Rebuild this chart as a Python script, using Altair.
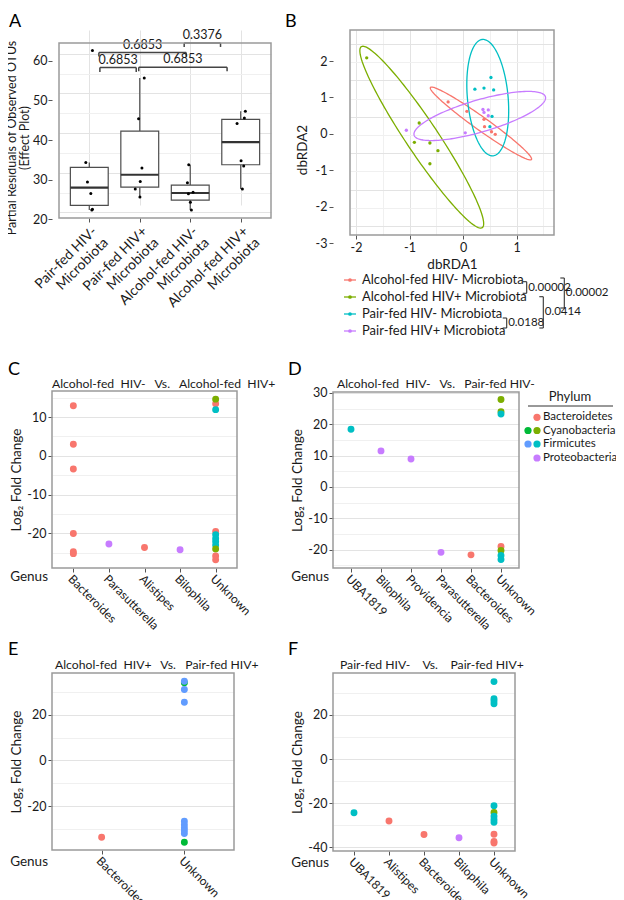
import json
import altair as alt
import pandas as pd

FONT = "Lato"
INK = "#1a1a1a"
TICK = "#555555"
GMAJ = "#e3e3e3"
GMIN = "#f0f0f0"
BORDER = "#9a9a9a"
BOXC = "#4d4d4d"

# ======================= data =======================
panel_letters = ["A", "B", "C", "D", "E", "F"]

# ---- Panel A : partial residuals of observed OTUs ----
a_line1 = ["Pair-fed HIV-", "Pair-fed HIV+", "Alcohol-fed HIV-", "Alcohol-fed HIV+"]
a_line2 = "Microbiota"
a_group = [1] * 6 + [2] * 6 + [3] * 6 + [4] * 6
a_resid = [60.8, 32.6, 27.7, 24.8, 20.8, 20.6,
           53.9, 43.6, 31.2, 27.8, 25.9, 23.9,
           32.0, 27.5, 25.1, 24.7, 22.6, 20.6,
           45.5, 43.8, 42.4, 33.0, 31.7, 25.9]
a_jitter = [0.063, -0.069, -0.036, 0.030, 0.063, 0.050,
            0.089, -0.023, 0.043, 0.010, -0.089, 0.003,
            -0.030, -0.056, 0.056, -0.036, 0.003, 0.023,
            0.092, 0.072, -0.072, 0.007, 0.059, 0.033]
a_p_text = ["0.6853", "0.3376", "0.6853", "0.6853"]
a_p_x1 = [1.19, 2.88, 1.21, 1.98]
a_p_x2 = [2.92, 3.60, 1.93, 3.73]
a_p_y = [60.3, 62.7, 56.5, 56.6]
a_p_tip = [59.3, 61.7, 55.4, 55.6]
a_y_major = [20, 30, 40, 50, 60]
a_y_minor = [25, 35, 45, 55]

# ---- Panel B : dbRDA ordination ----
b_groups = ["Alcohol-fed HIV- Microbiota", "Alcohol-fed HIV+ Microbiota",
            "Pair-fed HIV- Microbiota", "Pair-fed HIV+ Microbiota"]
b_colors = ["#F8766D", "#7CAE00", "#00BFC4", "#C77CFF"]
b_pt_group = [0] * 6 + [1] * 6 + [2] * 6 + [3] * 6
b_x = [-0.28, 0.07, 0.39, 0.40, 0.53, 0.60,
       -1.80, -0.82, -0.91, -0.62, -0.47, -0.62,
       0.22, 0.39, 0.52, 0.57, 0.54, 0.50,
       -1.06, 0.04, 0.37, 0.39, 0.47, 0.47]
b_y = [0.41, 0.15, -0.07, -0.27, -0.41, -0.48,
       1.62, -0.17, -0.70, -0.72, -0.93, -1.29,
       0.76, 0.79, 1.08, 0.74, 0.01, -0.27,
       -0.37, -0.44, 0.20, 0.12, 0.19, 0.03]
# confidence ellipses: centre, major half-axis vector, minor half-axis vector
b_ell_cx = [0.333, -0.772, 0.460, 0.311]
b_ell_cy = [-0.183, -0.559, 0.527, 0.023]
b_ell_ux = [0.943, 1.129, 0.100, 1.226]
b_ell_uy = [-0.989, -2.486, -1.598, 0.527]
b_ell_vx = [0.072, 0.248, 0.378, 0.084]
b_ell_vy = [0.149, 0.245, 0.051, -0.422]
b_p_text = ["0.00002", "0.00002", "0.0188", "0.0414"]
b_x_major = [-2, -1, 0, 1]
b_x_minor = [-1.5, -0.5, 0.5, 1.5]
b_y_major = [-3, -2, -1, 0, 1, 2]
b_y_minor = [-2.5, -1.5, -0.5, 0.5, 1.5]

# ---- Panels C-F : log2 fold change by genus ----
phyla = ["Bacteroidetes", "Cyanobacteria", "Firmicutes", "Proteobacteria"]
pal_main = ["#F8766D", "#7CAE00", "#00BFC4", "#C77CFF"]
pal_alt = ["#F8766D", "#00BA38", "#619CFF", "#C77CFF"]

c_title = "Alcohol-fed  HIV-   Vs.   Alcohol-fed  HIV+"
c_order = ["Bacteroides", "Parasutterella", "Alistipes", "Bilophila", "Unknown"]
c_genus = (["Bacteroides"] * 6 + ["Parasutterella", "Alistipes", "Bilophila"] + ["Unknown"] * 11)
c_phylum = (["Bacteroidetes"] * 6 + ["Proteobacteria", "Bacteroidetes", "Proteobacteria"] +
            ["Bacteroidetes", "Firmicutes", "Cyanobacteria", "Bacteroidetes", "Firmicutes", "Firmicutes",
             "Firmicutes", "Firmicutes", "Cyanobacteria", "Bacteroidetes", "Bacteroidetes"])
c_lfc = [12.9, 3.0, -3.4, -20.0, -24.7, -25.2,
         -22.7, -23.6, -24.2,
         13.4, 11.9, 14.6, -19.5, -20.3, -21.3, -22.1, -23.0, -24.0, -25.8, -26.8]

d_title = "Alcohol-fed  HIV-   Vs.   Pair-fed HIV-"
d_order = ["UBA1819", "Bilophila", "Providencia", "Parasutterella", "Bacteroides", "Unknown"]
d_genus = ["UBA1819", "Bilophila", "Providencia", "Parasutterella", "Bacteroides"] + ["Unknown"] * 7
d_phylum = ["Firmicutes", "Proteobacteria", "Proteobacteria", "Proteobacteria", "Bacteroidetes",
            "Cyanobacteria", "Cyanobacteria", "Firmicutes", "Bacteroidetes", "Cyanobacteria",
            "Firmicutes", "Firmicutes"]
d_lfc = [18.4, 11.5, 8.9, -20.9, -21.7,
         27.9, 24.0, 23.3, -19.0, -20.3, -21.9, -23.2]

e_title = "Alcohol-fed  HIV+   Vs.   Pair-fed HIV+"
e_order = ["Bacteroides", "Unknown"]
e_genus = ["Bacteroides"] + ["Unknown"] * 10
e_phylum = ["Bacteroidetes", "Cyanobacteria", "Firmicutes", "Firmicutes", "Firmicutes", "Firmicutes",
            "Firmicutes", "Firmicutes", "Firmicutes", "Firmicutes", "Cyanobacteria"]
e_lfc = [-33.6, 34.0, 34.7, 31.1, 25.5, -26.6, -28.1, -29.5, -30.7, -32.0, -35.8]

f_title = "Pair-fed HIV-    Vs.    Pair-fed HIV+"
f_order = ["UBA1819", "Alistipes", "Bacteroides", "Bilophila", "Unknown"]
f_genus = ["UBA1819", "Alistipes", "Bacteroides", "Bilophila"] + ["Unknown"] * 12
f_phylum = ["Firmicutes", "Bacteroidetes", "Bacteroidetes", "Proteobacteria",
            "Firmicutes", "Firmicutes", "Firmicutes", "Firmicutes", "Firmicutes", "Cyanobacteria",
            "Firmicutes", "Firmicutes", "Firmicutes", "Bacteroidetes", "Bacteroidetes", "Bacteroidetes"]
f_lfc = [-24.3, -28.0, -34.1, -35.6,
         35.0, 27.3, 26.2, 25.0, -21.1, -24.2, -25.9, -27.3, -28.6, -34.0, -37.3, -38.0]


# ======================= helpers =======================
def lin(domain, rng):
    return alt.Scale(domain=domain, range=rng, nice=False, zero=False)


def minor_axis(major, minor, **kw):
    vals = sorted(set(major + minor))
    test = "indexof(%s, datum.value) >= 0" % json.dumps(major)
    return alt.Axis(values=vals,
                    labelExpr="%s ? toString(datum.value) : ''" % test,
                    gridColor={"condition": {"test": test, "value": GMAJ}, "value": GMIN},
                    tickColor={"condition": {"test": test, "value": TICK}, "value": "transparent"},
                    labelOverlap=False, labelFlush=False, **kw)


def one():
    return alt.Chart(pd.DataFrame({"k": [0]}))


def letter(ch, dx, dy, baseline="alphabetic"):
    return alt.Chart(pd.DataFrame({"t": [ch]})).mark_text(
        font=FONT, fontSize=18, align="left", baseline=baseline, color="black"
    ).encode(text="t:N", x=alt.value(dx), y=alt.value(dy))


def label(txt, x, y, size=12.5, align="left", baseline="middle"):
    return alt.Chart(pd.DataFrame({"t": [txt]})).mark_text(
        font=FONT, fontSize=size, align=align, baseline=baseline, color=INK
    ).encode(text="t:N", x=alt.value(x), y=alt.value(y))


def seg(x1, x2, y1, y2, color="#333333", width=1.2):
    return one().mark_rule(color=color, strokeWidth=width).encode(
        x=alt.value(x1), x2=alt.value(x2), y=alt.value(y1), y2=alt.value(y2))


def dot(x, y, color, size):
    return one().mark_circle(color=color, size=size, opacity=1).encode(x=alt.value(x), y=alt.value(y))


def border(ox, oy, w, h):
    return one().mark_rect(fill="transparent", stroke=BORDER, strokeWidth=1.5).encode(
        x=alt.value(ox), x2=alt.value(ox + w), y=alt.value(oy), y2=alt.value(oy + h))


# ======================= Panel A =======================
# plot area WA x HA, placed at (OXA, OYA) inside its cell
WA, HA, OXA, OYA = 212, 175, 7, 13
dfA = pd.DataFrame({"g": a_group, "v": a_resid, "j": a_jitter})
lab_arr = "[" + ",".join("[%s,%s]" % (json.dumps(l), json.dumps(a_line2)) for l in a_line1) + "]"
axA_x = alt.Axis(values=[1, 2, 3, 4], labelExpr="%s[datum.value - 1]" % lab_arr, labelAngle=315,
                 labelAlign="right", labelBaseline="top", labelFontSize=14, labelOverlap=False,
                 labelFlush=False, labelPadding=2, labelLineHeight=16, gridColor=GMAJ, tickColor=TICK,
                 title=None)
axA_y = minor_axis(a_y_major, a_y_minor, title=["Partial Residuals of Observed OTUs", "(Effect Plot)"],
                   labelFontSize=12.5, labelPadding=1, titleFontSize=12.5, titleLineHeight=13,
                   titleX=-34, titleBaseline="bottom", position=OXA)
sxA = lin([0.4, 4.6], [OXA, OXA + WA])
syA = lin([18.6, 62.7], [OYA + HA, OYA])


def XA(f):
    return alt.X(f + ":Q", scale=sxA, axis=axA_x, title=None)


def YA(f):
    return alt.Y(f + ":Q", scale=syA, axis=axA_y)


statsA = (alt.Chart(dfA)
          .transform_joinaggregate(q1="q1(v)", q3="q3(v)", med="median(v)", groupby=["g"])
          .transform_calculate(lo="datum.q1 - 1.5*(datum.q3-datum.q1)",
                               hi="datum.q3 + 1.5*(datum.q3-datum.q1)")
          .transform_filter("datum.v >= datum.lo && datum.v <= datum.hi")
          .transform_aggregate(q1="min(q1)", q3="min(q3)", med="min(med)", wlo="min(v)", whi="max(v)",
                               groupby=["g"])
          .transform_calculate(xl="datum.g - 0.375", xr="datum.g + 0.375"))
wh_hi = statsA.mark_rule(color=BOXC, strokeWidth=1.2).encode(x=XA("g"), y=YA("q3"), y2="whi:Q")
wh_lo = statsA.mark_rule(color=BOXC, strokeWidth=1.2).encode(x=XA("g"), y=YA("wlo"), y2="q1:Q")
boxA = statsA.mark_bar(fill="white", stroke=BOXC, strokeWidth=1.2).encode(
    x=XA("xl"), x2="xr:Q", y=YA("q1"), y2="q3:Q")
medA = statsA.mark_rule(color="#333333", strokeWidth=2.2).encode(x=XA("xl"), x2="xr:Q", y=YA("med"))
ptsA = (alt.Chart(dfA).transform_calculate(xj="datum.g + datum.j")
        .mark_circle(size=9, color="black", opacity=1).encode(x=XA("xj"), y=YA("v")))

dfAp = pd.DataFrame({"t": a_p_text, "x1": a_p_x1, "x2": a_p_x2, "y": a_p_y, "yt": a_p_tip})
BRC = "#444444"
brA_h = alt.Chart(dfAp).mark_rule(color=BRC, strokeWidth=1.5).encode(x=XA("x1"), x2="x2:Q", y=YA("y"))
brA_l = alt.Chart(dfAp).mark_rule(color=BRC, strokeWidth=1.5).encode(x=XA("x1"), y=YA("yt"), y2="y:Q")
brA_r = alt.Chart(dfAp).mark_rule(color=BRC, strokeWidth=1.5).encode(x=XA("x2"), y=YA("yt"), y2="y:Q")
brA_t = (alt.Chart(dfAp).transform_calculate(xm="(datum.x1 + datum.x2) / 2")
         .mark_text(font=FONT, fontSize=12.5, baseline="bottom", dy=-1, color=INK)
         .encode(x=XA("xm"), y=YA("y"), text="t:N"))

chartA = alt.layer(wh_hi, wh_lo, boxA, medA, ptsA, brA_h, brA_l, brA_r, brA_t,
                   border(OXA, OYA, WA, HA),
                   letter(panel_letters[0], -43, -17, "top")).properties(width=OXA + WA, height=OYA + HA)

# ======================= Panel B =======================
WB, HB, OXB = 204, 205, 17
sxB = lin([-2.112, 1.697], [OXB, OXB + WB])
syB = lin([-3.247, 2.385], [HB, 0])
axB_x = minor_axis(b_x_major, b_x_minor, title="dbRDA1", labelFontSize=12.5, titleFontSize=13.5,
                   titlePadding=4)
axB_y = minor_axis(b_y_major, b_y_minor, title="dbRDA2", labelFontSize=12.5, titleFontSize=13.5,
                   titlePadding=6, position=OXB)


def XB(f):
    return alt.X(f + ":Q", scale=sxB, axis=axB_x)


def YB(f):
    return alt.Y(f + ":Q", scale=syB, axis=axB_y)


colB = alt.Color("grp:N", scale=alt.Scale(domain=b_groups, range=b_colors), legend=None)
dfB = pd.DataFrame({"grp": [b_groups[i] for i in b_pt_group], "x": b_x, "y": b_y})
dfBE = pd.DataFrame({"grp": b_groups, "cx": b_ell_cx, "cy": b_ell_cy, "ux": b_ell_ux,
                     "uy": b_ell_uy, "vx": b_ell_vx, "vy": b_ell_vy})
ellB = (alt.Chart(dfBE)
        .transform_calculate(t="sequence(0, 6.28, 0.04)")
        .transform_flatten(["t"])
        .transform_calculate(ex="datum.cx + datum.ux*cos(datum.t) + datum.vx*sin(datum.t)",
                             ey="datum.cy + datum.uy*cos(datum.t) + datum.vy*sin(datum.t)")
        .mark_line(strokeWidth=1.3, interpolate="linear-closed")
        .encode(x=XB("ex"), y=YB("ey"), color=colB, order="t:Q"))
ptsB = alt.Chart(dfB).mark_circle(size=11, opacity=1).encode(x=XB("x"), y=YB("y"), color=colB)

legB = []
leg_rows = [250, 267, 284, 301]
for lab, col, py in zip(b_groups, b_colors, leg_rows):
    legB += [seg(OXB - 6, OXB + 6, py, py, col, 1.3), dot(OXB, py, col, 14), label(lab, OXB + 12, py, 13)]
# p-value brackets between legend entries: (x, y_top, y_bottom)
b_br_geom = [(193.7, 251.7, 263.3), (231.3, 248, 278), (173.7, 288, 298), (210.3, 266.7, 298)]
for txt, (bx, yt, yb) in zip(b_p_text, b_br_geom):
    legB += [seg(bx, bx, yt, yb, "#333333", 1.1), seg(bx - 4, bx, yt, yt, "#333333", 1.1),
             seg(bx - 4, bx, yb, yb, "#333333", 1.1),
             label(txt, bx + 1.5, (yt + yb) / 2, 11.5)]

chartB = alt.layer(ellB, ptsB, border(OXB, 0, WB, HB), *legB,
                   letter(panel_letters[1], -48, -17, "top")).properties(width=OXB + WB, height=HB)


# ======================= Panels C-F =======================
def lfc_panel(lt, lxy, title, txy, order, genus, phylum, lfc, palette, ydom, ymaj, ymin, w, h, oy,
              genus_dy, legend=False):
    df = pd.DataFrame({"genus": genus, "phylum": phylum, "lfc": lfc})
    x = alt.X("genus:N", sort=order, scale=alt.Scale(type="point", padding=0.6, range=[0, w]),
              axis=alt.Axis(labelAngle=45, labelAlign="left", labelBaseline="top", labelFontSize=12,
                            labelOverlap=False, labelPadding=1, gridColor=GMAJ, tickColor=TICK,
                            labelLimit=0, title=None))
    y = alt.Y("lfc:Q", scale=lin(ydom, [oy + h, oy]),
              axis=minor_axis(ymaj, ymin, title="Log\u2082 Fold Change", labelFontSize=12.5,
                              titleFontSize=13.5, titlePadding=3))
    pts = alt.Chart(df).mark_circle(size=48, opacity=1).encode(
        x=x, y=y, color=alt.Color("phylum:N", scale=alt.Scale(domain=phyla, range=palette), legend=None))
    layers = [pts, border(0, oy, w, h),
              label("Genus", -4, oy + h + genus_dy, 13.5, align="right"),
              label(title.replace(" ", "\u00a0"), txy[0], txy[1], 12.2, baseline="alphabetic"),
              letter(lt, lxy[0], lxy[1])]
    if legend:
        layers.append(label("Phylum", 237, oy + 5, 13, align="center"))
        layers.append(seg(195, 280, oy + 14, oy + 14, "#333333", 1))
        rows = [25.3, 38.5, 52, 66]
        for i, (ph, py) in enumerate(zip(phyla, rows)):
            if pal_alt[i] != pal_main[i]:
                layers.append(dot(195, oy + py, pal_alt[i], 52))
            layers.append(dot(204, oy + py, pal_main[i], 52))
            layers.append(label(ph, 210, oy + py, 11.5))
    return alt.layer(*layers).properties(width=w, height=oy + h)


chartC = lfc_panel(panel_letters[2], (-44, 35), c_title, (0, 48), c_order, c_genus, c_phylum, c_lfc,
                   pal_main, [-28.9, 16.7], [-20, -10, 0, 10], [-25, -15, -5, 5, 15], 185, 177, 51, 9)
chartD = lfc_panel(panel_letters[3], (-45, 35), d_title, (4, 48), d_order, d_genus, d_phylum, d_lfc,
                   pal_main, [-25.9, 30.3], [-20, -10, 0, 10, 20, 30], [-25, -15, -5, 5, 15, 25], 186, 176,
                   52, 9, legend=True)
chartE = lfc_panel(panel_letters[4], (-44, -18), e_title, (3, -4), e_order, e_genus, e_phylum, e_lfc,
                   pal_alt, [-39.2, 38.3], [-20, 0, 20], [-30, -10, 10, 30], 182, 177, 0, 12)
chartF = lfc_panel(panel_letters[5], (-45, -18), f_title, (7, -4), f_order, f_genus, f_phylum, f_lfc,
                   pal_main, [-41.6, 38.9], [-40, -20, 0, 20], [-30, -10, 10, 30], 182, 178, 0, 12)

chart = (alt.concat(chartA, chartB, chartC, chartD, chartE, chartF, columns=2, bounds="flush",
                    align="each", spacing={"row": 105, "column": 62})
         .resolve_scale(color="independent")
         .properties(autosize=alt.AutoSizeParams(type="none"),
                     padding={"left": 44, "top": 22, "right": 564, "bottom": 870},
                     background="white")
         .configure_view(stroke="transparent")
         .configure_axis(domain=False, tickSize=4, tickWidth=1, labelFont=FONT, titleFont=FONT,
                         labelColor=INK, titleColor=INK, titleFontWeight="normal", gridWidth=1)
         .configure_title(font=FONT, fontWeight="normal", color=INK))

chart.save("out.html", embed_options={"renderer": "svg", "actions": False})
